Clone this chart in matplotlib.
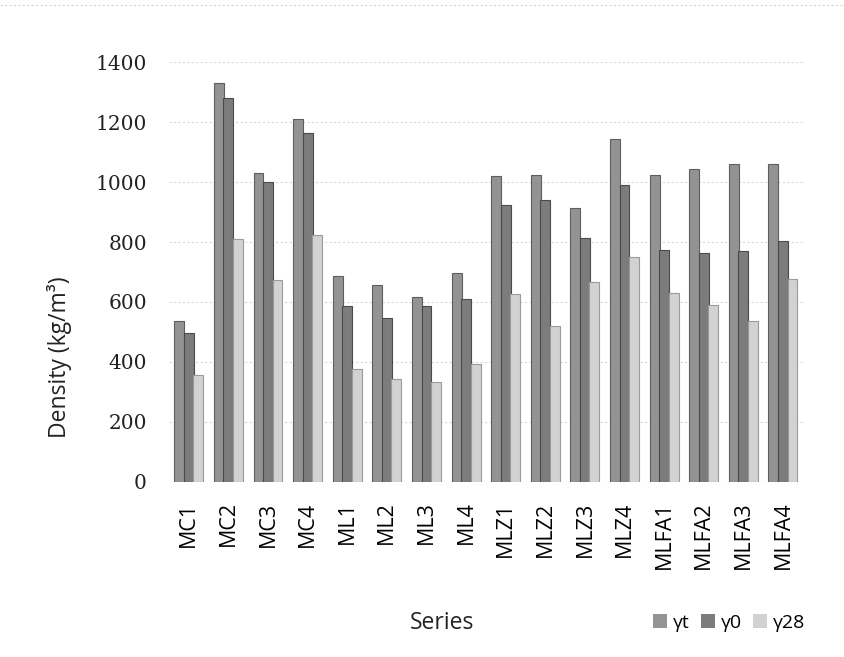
import matplotlib
matplotlib.use('Agg')
import matplotlib.pyplot as plt
import numpy as np

series = ['MC1', 'MC2', 'MC3', 'MC4', 'ML1', 'ML2', 'ML3', 'ML4',
          'MLZ1', 'MLZ2', 'MLZ3', 'MLZ4', 'MLFA1', 'MLFA2', 'MLFA3', 'MLFA4']
gamma_t = [535, 1330, 1030, 1210, 685, 655, 615, 695,
           1020, 1025, 915, 1145, 1025, 1045, 1060, 1060]
gamma_0 = [495, 1280, 1000, 1165, 585, 545, 585, 610,
           925, 940, 815, 990, 775, 765, 770, 805]
gamma_28 = [355, 810, 673, 825, 377, 343, 333, 393,
            627, 520, 668, 750, 629, 590, 537, 676]
yticks = [0, 200, 400, 600, 800, 1000, 1200, 1400]

sans = ['Open Sans', 'DejaVu Sans']

fig = plt.figure(figsize=(8.45, 6.57), dpi=100)
ax = fig.add_axes([0.2, 0.2664, 0.75, 0.6392])

x = np.arange(len(series))
w = 0.25
ax.bar(x - 0.24, gamma_t, w, color='#939393', edgecolor='#5e5e5e', linewidth=0.8, label='γt', zorder=3)
ax.bar(x, gamma_0, w, color='#7c7c7c', edgecolor='#4a4a4a', linewidth=0.8, label='γ0', zorder=3)
ax.bar(x + 0.24, gamma_28, w, color='#d2d2d4', edgecolor='#9a9a9a', linewidth=0.8, label='γ28', zorder=3)

ax.set_xlim(-0.5, len(series) - 0.5)
ax.set_ylim(0, 1400)
ax.set_yticks(yticks)
ax.set_xticks(x)
ax.set_xticklabels(series, rotation=90, family=sans, fontsize=15.5)
for lab in ax.get_yticklabels():
    lab.set_family('DejaVu Serif')
    lab.set_fontsize(14.5)
    lab.set_color('#222222')
ax.tick_params(axis='y', length=0, pad=16)
ax.tick_params(axis='x', length=0, pad=14)
ax.grid(axis='y', color='#d8d8d8', linestyle=(0, (2, 2)), linewidth=0.8, zorder=0)
for s in ax.spines.values():
    s.set_visible(False)

fig.text(0.07, 0.4566, 'Density (kg/m³)', rotation=90, ha='center', va='center',
         family=sans, fontsize=16.5, color='#222222')
fig.text(0.523, 0.052, 'Series', ha='center', va='center',
         family=sans, fontsize=16.5, color='#222222')

leg = fig.legend(loc='center', bbox_to_anchor=(0.863, 0.052), ncol=3, frameon=False,
                 handlelength=0.7, handleheight=0.7, handletextpad=0.3,
                 columnspacing=0.6, prop={'family': sans, 'size': 14})
for h in leg.legend_handles:
    h.set_linewidth(0)

# faint dotted rule along the top edge
fig.add_artist(plt.Line2D([0.0, 1.0], [0.992, 0.992], transform=fig.transFigure,
                          color='#d5d5d5', linestyle=(0, (2, 2)), linewidth=0.8))

fig.savefig('out.png', dpi=100)
